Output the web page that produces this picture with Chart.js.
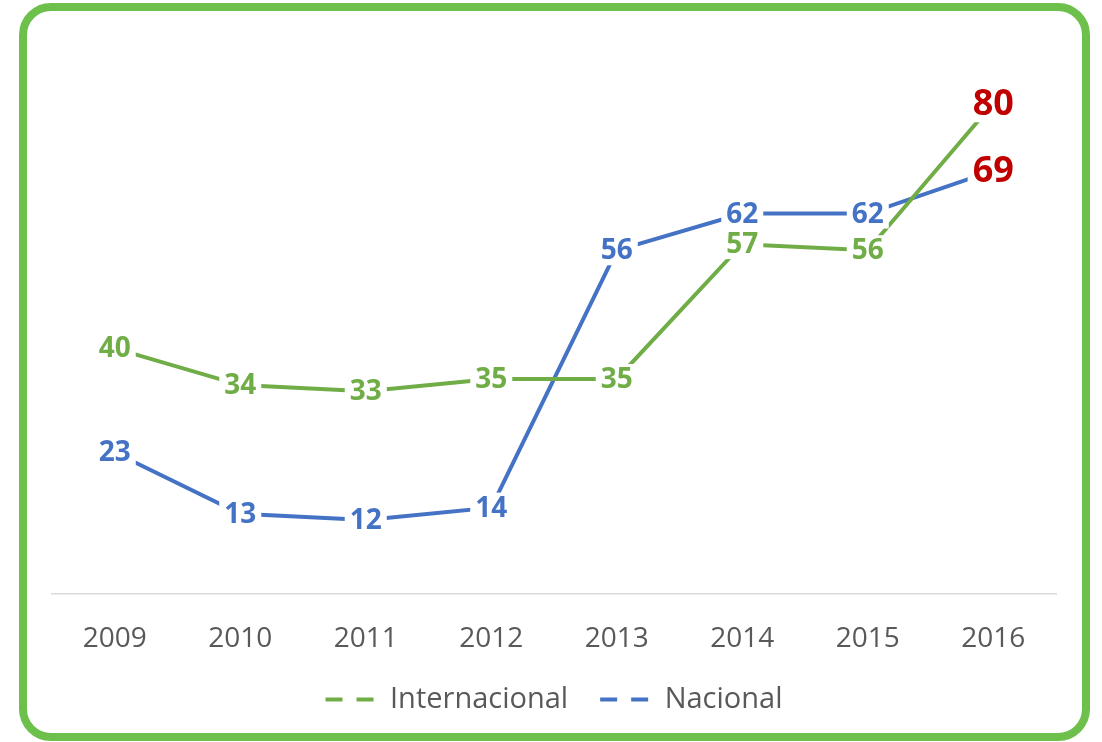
<!DOCTYPE html>
<html>
<head>
<meta charset="utf-8">
<script src="https://cdn.jsdelivr.net/npm/chart.js@4"></script>
<style>
  html, body { margin: 0; padding: 0; background: #fff; }
  #frame {
    position: absolute; left: 19px; top: 3px; width: 1071px; height: 738px;
    box-sizing: border-box; border: 8px solid #6CC04B; border-radius: 32px;
  }
  #wrap { position: absolute; left: 0; top: 0; width: 1102px; height: 742px; }
</style>
</head>
<body>
<div id="frame"></div>
<div id="wrap"><canvas id="chart" width="1102" height="742"></canvas></div>
<script>
const YEARS = ['2009', '2010', '2011', '2012', '2013', '2014', '2015', '2016'];
const INTERNACIONAL = [40, 34, 33, 35, 35, 57, 56, 80];
const NACIONAL = [23, 13, 12, 14, 56, 62, 62, 69];

const GREEN = '#70AD47';
const BLUE = '#4472C4';
const RED = '#C00000';
const FONT = '"Open Sans", "Noto Sans", sans-serif';

// numbers sit on the points with a white box that hides the line under them
const valueLabels = {
  id: 'valueLabels',
  afterDatasetsDraw(chart) {
    const ctx = chart.ctx;
    ctx.save();
    chart.data.datasets.forEach((ds, i) => {
      const meta = chart.getDatasetMeta(i);
      meta.data.forEach((pt, j) => {
        const last = j === ds.data.length - 1;
        const size = last ? 36 : 28;
        ctx.font = 'bold ' + size + 'px ' + FONT;
        const txt = String(ds.data[j]);
        const w = ctx.measureText(txt).width;
        ctx.fillStyle = '#fff';
        ctx.fillRect(pt.x - w / 2 - 5, pt.y - size / 2 - 1, w + 10, size + 2);
        ctx.fillStyle = last ? RED : ds.borderColor;
        ctx.textAlign = 'center';
        ctx.textBaseline = 'middle';
        ctx.fillText(txt, pt.x, pt.y + 1);
      });
    });
    ctx.restore();
  }
};

new Chart(document.getElementById('chart'), {
  type: 'line',
  data: {
    labels: YEARS,
    datasets: [
      { label: 'Internacional', data: INTERNACIONAL, borderColor: GREEN, backgroundColor: GREEN,
        borderWidth: 4, pointRadius: 0, tension: 0 },
      { label: 'Nacional', data: NACIONAL, borderColor: BLUE, backgroundColor: BLUE,
        borderWidth: 4, pointRadius: 0, tension: 0 }
    ]
  },
  options: {
    responsive: false,
    animation: false,
    layout: { padding: { left: 52, right: 46, top: 42, bottom: 18 } },
    scales: {
      x: {
        offset: true,
        grid: { display: false },
        border: { display: true, color: '#D9D9D9', width: 1.5 },
        ticks: { color: '#595959', font: { family: FONT, size: 28 }, padding: 21 },
        afterFit(scale) { scale.height -= 24; }
      },
      y: { display: false, min: 0, max: 90 }
    },
    plugins: {
      tooltip: { enabled: false },
      legend: {
        position: 'bottom',
        labels: {
          color: '#595959',
          font: { family: FONT, size: 29 },
          usePointStyle: true,
          pointStyle: 'line',
          pointStyleWidth: 50,
          padding: 32,
          generateLabels(chart) {
            return Chart.defaults.plugins.legend.labels.generateLabels(chart).map(item => {
              item.lineDash = [17, 14];
              item.lineWidth = 4;
              return item;
            });
          }
        }
      }
    }
  },
  plugins: [valueLabels]
});
</script>
</body>
</html>
